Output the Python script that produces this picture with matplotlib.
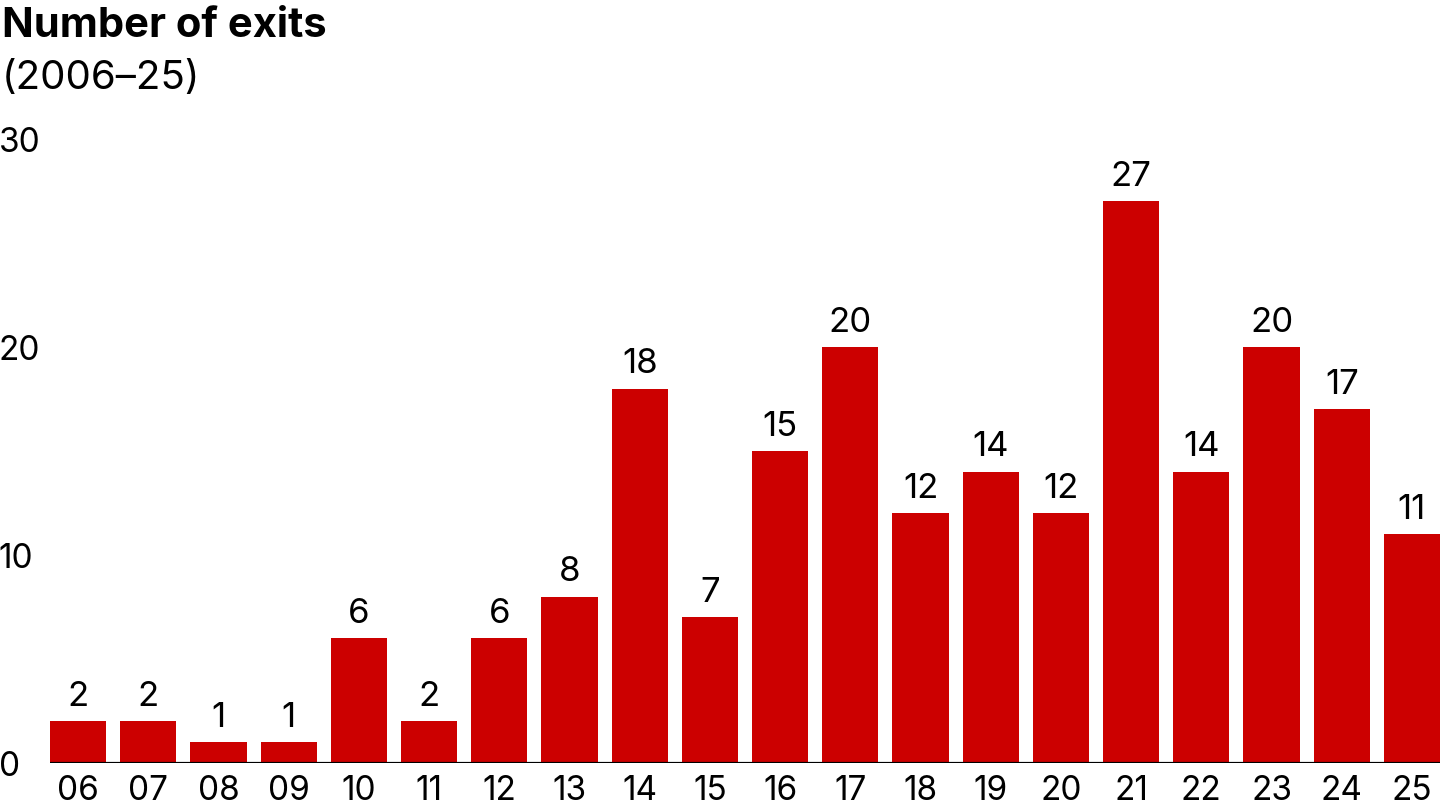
import matplotlib
matplotlib.use("Agg")
import matplotlib.pyplot as plt

plt.rcParams['font.family'] = ['Inter', 'DejaVu Sans']

years  = ["06", "07", "08", "09", "10", "11", "12", "13", "14", "15",
          "16", "17", "18", "19", "20", "21", "22", "23", "24", "25"]
exits  = [2, 2, 1, 1, 6, 2, 6, 8, 18, 7, 15, 20, 12, 14, 12, 27, 14, 20, 17, 11]
yticks = [0, 10, 20, 30]

RED = "#CC0000"

fig = plt.figure(figsize=(14.4, 8.1), dpi=100)
W, H = 1440, 810

# axes: x from 50 to 1440 px, y baseline at 763 px, 30 at ~139 px
ax = fig.add_axes([50 / W, 1 - 763 / H, 1390 / W, 624 / H])

x = list(range(len(years)))
ax.bar(x, exits, width=0.8, color=RED, zorder=2)
ax.axhline(0, color="black", linewidth=2.3, zorder=3)

for xi, v in zip(x, exits):
    ax.annotate(str(v), (xi, v), xytext=(0, 6), textcoords="offset points",
                ha="center", va="bottom", fontsize=25, color="black")

ax.set_xlim(-0.4, len(years) - 0.6)
ax.set_ylim(0, 30)
ax.set_xticks(x)
ax.set_xticklabels(years, fontsize=24)
ax.set_yticks(yticks)
ax.set_yticklabels([str(t) for t in yticks], fontsize=24, ha="left")
ax.tick_params(axis="y", length=0, pad=37)
ax.tick_params(axis="x", length=0, pad=9)
for s in ax.spines.values():
    s.set_visible(False)

fig.text(2 / W, 1 - 37 / H, "Number of exits", fontsize=30, fontweight="bold",
         ha="left", va="baseline")
fig.text(2 / W, 1 - 89 / H, "(2006–25)", fontsize=29,
         ha="left", va="baseline")

fig.savefig("out.png", dpi=100)
